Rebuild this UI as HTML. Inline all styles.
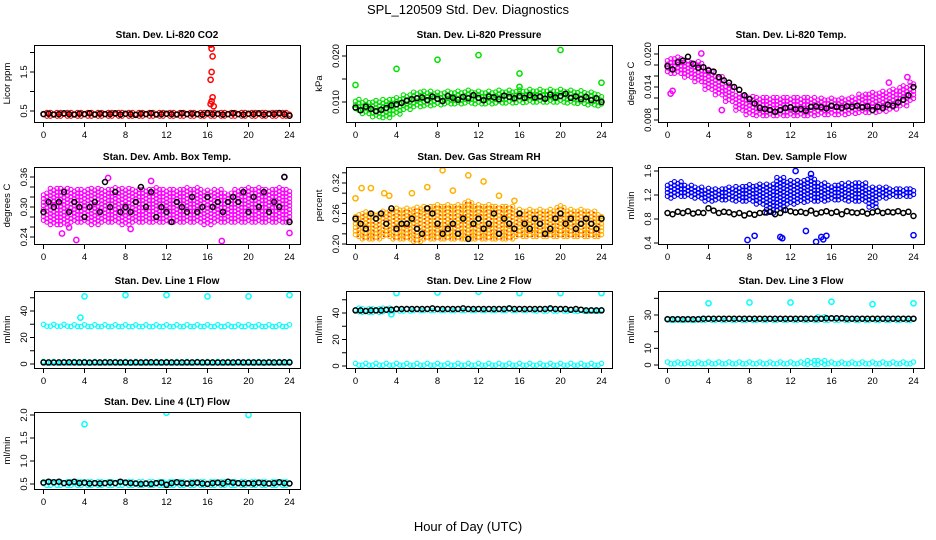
<!DOCTYPE html>
<html><head><meta charset="utf-8">
<style>
html,body{margin:0;padding:0;background:#fff;}
svg{display:block;font-family:"Liberation Sans",Arial,sans-serif;}
</style></head>
<body>
<svg id="c" width="936" height="540" viewBox="0 0 936 540">
<text x="468" y="14" text-anchor="middle" font-size="13">SPL_120509  Std. Dev. Diagnostics</text>
<text x="468" y="531" text-anchor="middle" font-size="13">Hour of Day (UTC)</text>
</svg>
<script>
// ---- data (hourly cloud extents: lo/hi per hour 0..24; black series every 0.5 h) ----
const hours = [0,1,2,3,4,5,6,7,8,9,10,11,12,13,14,15,16,17,18,19,20,21,22,23,24];
const xTicks = [0,4,8,12,16,20,24];

const co2Lo = [0.37,0.37,0.37,0.37,0.37,0.37,0.37,0.37,0.37,0.37,0.37,0.37,0.37,0.37,0.37,0.37,0.37,0.37,0.37,0.37,0.37,0.37,0.37,0.37,0.37];
const co2Hi = [0.47,0.47,0.47,0.47,0.47,0.47,0.47,0.47,0.47,0.47,0.47,0.47,0.47,0.47,0.47,0.47,0.48,0.47,0.47,0.47,0.47,0.47,0.47,0.47,0.46];
const co2OutX = [16.3,16.4,16.5,16.4,16.3,16.5,16.4,16.3,16.6];
const co2OutY = [2.2,2.1,1.9,1.5,1.3,0.85,0.75,0.68,0.62];
const co2Black = [0.42,0.43,0.41,0.42,0.44,0.42,0.41,0.43,0.42,0.44,0.41,0.43,0.42,0.42,0.44,0.41,0.43,0.42,0.40,0.43,0.42,0.44,0.41,0.42,0.43,0.42,0.41,0.44,0.42,0.43,0.42,0.41,0.45,0.42,0.43,0.41,0.42,0.44,0.42,0.41,0.43,0.42,0.44,0.41,0.43,0.42,0.45,0.42,0.38];

const prsLo = [0.0082,0.0075,0.0068,0.0066,0.0074,0.0084,0.0090,0.0092,0.0094,0.0096,0.0096,0.0098,0.0096,0.0096,0.0098,0.0098,0.0099,0.0100,0.0100,0.0100,0.0100,0.0098,0.0097,0.0094,0.0092];
const prsHi = [0.0108,0.0106,0.0104,0.0106,0.0110,0.0116,0.0122,0.0124,0.0124,0.0126,0.0126,0.0127,0.0124,0.0126,0.0126,0.0128,0.0128,0.0128,0.0128,0.0128,0.0128,0.0126,0.0126,0.0122,0.0118];
const prsOutX = [0,4,8,12,16,16,20,24];
const prsOutY = [0.0137,0.0172,0.0192,0.0202,0.0162,0.0133,0.0213,0.0142];
const prsBlack = [0.0088,0.0082,0.0090,0.0085,0.0080,0.0083,0.0087,0.0093,0.0095,0.0098,0.0103,0.0106,0.0108,0.0110,0.0104,0.0112,0.0107,0.0102,0.0113,0.0109,0.0105,0.0111,0.0108,0.0115,0.0109,0.0104,0.0112,0.0110,0.0106,0.0114,0.0111,0.0108,0.0113,0.0109,0.0115,0.0110,0.0112,0.0107,0.0116,0.0110,0.0113,0.0118,0.0109,0.0112,0.0106,0.0111,0.0104,0.0108,0.0100];

const tmpLo = [0.0165,0.0165,0.0158,0.0150,0.0136,0.0126,0.0114,0.0098,0.0090,0.0088,0.0088,0.0088,0.0088,0.0088,0.0088,0.0090,0.0090,0.0090,0.0092,0.0094,0.0094,0.0096,0.0100,0.0106,0.0116];
const tmpHi = [0.0192,0.0196,0.0190,0.0186,0.0172,0.0160,0.0146,0.0130,0.0124,0.0122,0.0122,0.0122,0.0122,0.0122,0.0122,0.0122,0.0122,0.0122,0.0124,0.0128,0.0130,0.0132,0.0136,0.0142,0.0150];
const tmpOutX = [0.3,0.5,3.3,5.3,21.6,23.4];
const tmpOutY = [0.0128,0.0133,0.0201,0.0098,0.0148,0.0158];
const tmpBlack = [0.0178,0.0172,0.0185,0.0188,0.0195,0.0182,0.0175,0.0176,0.0170,0.0168,0.0158,0.0152,0.0148,0.0140,0.0135,0.0125,0.0118,0.0110,0.0102,0.0100,0.0098,0.0095,0.0098,0.0102,0.0103,0.0099,0.0100,0.0097,0.0104,0.0105,0.0103,0.0101,0.0106,0.0104,0.0102,0.0105,0.0104,0.0106,0.0103,0.0105,0.0098,0.0104,0.0102,0.0108,0.0106,0.0112,0.0117,0.0125,0.0140];

const ambLo = [0.27,0.265,0.265,0.27,0.27,0.265,0.27,0.27,0.265,0.27,0.27,0.27,0.27,0.27,0.27,0.27,0.265,0.27,0.27,0.27,0.27,0.27,0.27,0.27,0.27];
const ambHi = [0.33,0.34,0.34,0.335,0.335,0.34,0.335,0.34,0.34,0.335,0.335,0.34,0.335,0.335,0.34,0.34,0.335,0.335,0.33,0.335,0.34,0.34,0.335,0.34,0.335];
const ambOutX = [1.8,3.2,6.3,10.5,17.4,23.5,24,2.5,8.5];
const ambOutY = [0.247,0.234,0.358,0.352,0.232,0.360,0.248,0.259,0.256];
const ambBlack = [0.29,0.31,0.30,0.31,0.33,0.29,0.31,0.30,0.28,0.30,0.31,0.29,0.35,0.30,0.33,0.29,0.30,0.29,0.31,0.34,0.30,0.33,0.28,0.30,0.29,0.27,0.31,0.30,0.29,0.32,0.29,0.30,0.32,0.30,0.31,0.29,0.31,0.32,0.31,0.33,0.29,0.32,0.30,0.33,0.29,0.31,0.30,0.36,0.27];

const rhLo = [0.215,0.21,0.21,0.215,0.21,0.21,0.205,0.21,0.21,0.21,0.21,0.21,0.21,0.21,0.21,0.21,0.215,0.215,0.215,0.215,0.215,0.215,0.215,0.215,0.215];
const rhHi = [0.26,0.265,0.26,0.265,0.27,0.27,0.275,0.275,0.28,0.28,0.28,0.285,0.28,0.28,0.275,0.275,0.27,0.27,0.27,0.27,0.275,0.27,0.27,0.265,0.26];
const rhOutX = [0,0.6,1.5,2.8,5.5,7.0,8.5,9.5,11.0,12.5,14.0,15.5,3.3];
const rhOutY = [0.290,0.310,0.310,0.300,0.300,0.312,0.345,0.305,0.335,0.323,0.295,0.285,0.295];
const rhBlack = [0.25,0.24,0.23,0.26,0.25,0.26,0.24,0.27,0.23,0.24,0.24,0.25,0.23,0.22,0.27,0.26,0.24,0.22,0.23,0.24,0.22,0.25,0.21,0.24,0.25,0.23,0.24,0.26,0.22,0.25,0.24,0.23,0.26,0.24,0.23,0.25,0.24,0.22,0.23,0.25,0.26,0.24,0.25,0.23,0.24,0.25,0.24,0.23,0.25];

const sfLo = [1.15,1.18,1.18,1.15,1.10,1.12,1.12,1.10,1.10,1.05,0.90,0.95,1.05,1.08,1.10,1.10,1.12,1.12,1.10,1.10,1.00,1.15,1.18,1.18,1.18];
const sfHi = [1.40,1.42,1.38,1.35,1.32,1.32,1.35,1.35,1.38,1.40,1.40,1.50,1.45,1.45,1.50,1.40,1.38,1.40,1.42,1.40,1.35,1.35,1.32,1.32,1.32];
const sfOutX = [7.8,8.5,11.0,11.2,13.5,14.5,15.0,15.5,15.2,24,12.5,14.0];
const sfOutY = [0.45,0.52,0.50,0.48,0.60,0.42,0.50,0.52,0.46,0.53,1.60,1.55];
const sfBlack = [0.90,0.88,0.92,0.90,0.93,0.89,0.91,0.90,0.98,0.94,0.90,0.92,0.91,0.88,0.90,0.86,0.89,0.87,0.90,0.91,0.92,0.88,0.90,0.95,0.93,0.91,0.92,0.90,0.94,0.89,0.91,0.93,0.90,0.92,0.88,0.93,0.91,0.90,0.92,0.89,0.91,0.93,0.90,0.92,0.91,0.93,0.90,0.92,0.85];

const l1LoA = [28.5,28.5,28.5,28.3,28.3,28.2,28.2,28.2,28.2,28.2,28.2,28.2,28.2,28.2,28.3,28.3,28.3,28.3,28.3,28.3,28.3,28.3,28.3,28.3,28.3];
const l1HiA = [30.8,30.6,30.4,30.4,30.2,30.2,30.2,30.0,30.0,30.0,30.0,30.0,30.0,30.0,30.0,30.2,30.2,30.2,30.2,30.2,30.2,30.2,30.4,30.4,30.4];
const l1LoB = [0.6,0.6,0.6,0.6,0.6,0.6,0.6,0.6,0.6,0.6,0.6,0.6,0.6,0.6,0.6,0.6,0.6,0.6,0.6,0.6,0.6,0.6,0.6,0.6,0.6];
const l1HiB = [2.2,2.0,2.0,2.0,2.0,2.0,2.0,2.0,2.0,2.0,2.0,2.0,2.0,2.0,2.0,2.0,2.0,2.0,2.0,2.0,2.0,2.0,2.0,2.0,2.0];
const l1OutX = [4,8,12,16,20,24,3.6];
const l1OutY = [51,52,52,51,51,52,35];
const l1Black = [1.2,1.2,1.1,1.2,1.2,1.3,1.2,1.2,1.2,1.1,1.2,1.2,1.2,1.3,1.2,1.2,1.2,1.1,1.2,1.2,1.2,1.3,1.2,1.2,1.2,1.2,1.1,1.2,1.2,1.2,1.3,1.2,1.2,1.2,1.1,1.2,1.2,1.2,1.3,1.2,1.2,1.2,1.2,1.1,1.2,1.2,1.2,1.3,1.2];

const l2LoA = [41,40.5,40.5,41,41.5,41.5,41.8,41.8,41.8,41.8,41.8,41.8,41.8,41.8,41.8,41.8,41.8,41.8,41.5,41.5,41.5,41.5,41.2,41.2,41.2];
const l2HiA = [44.5,43.5,43.5,43.8,44.0,44.0,44.2,44.2,44.2,44.2,44.2,44.2,44.2,44.2,44.2,44.2,44.2,44.2,44.0,44.0,44.0,44.0,43.8,43.8,43.8];
const l2LoB = [0.6,0.6,0.6,0.6,0.6,0.6,0.6,0.6,0.6,0.6,0.6,0.6,0.6,0.6,0.6,0.6,0.6,0.6,0.6,0.6,0.6,0.6,0.6,0.6,0.6];
const l2HiB = [2.4,2.4,2.4,2.4,2.4,2.4,2.4,2.4,2.4,2.4,2.4,2.4,2.4,2.4,2.4,2.4,2.4,2.4,2.4,2.4,2.4,2.4,2.4,2.4,2.4];
const l2OutX = [4,8,12,16,20,24,3.5];
const l2OutY = [55,55.5,56,55,55,55,39];
const l2Black = [42,42,41.5,42,42,42,42.5,42.5,43,43,43,43,43,43,43,43.5,43,43,43,43,43,43.5,43,43,43,43,43,43,43,43,43.5,43,43,43,43,43,43,43,43.5,43,43,43,42.5,43,42.5,42,42,42,42];

const l3LoA = [26.8,26.8,26.8,26.8,26.8,26.8,26.8,26.8,26.8,26.8,26.8,26.8,26.8,26.8,26.8,26.8,26.8,26.8,26.8,26.8,26.8,26.8,26.8,26.8,26.8];
const l3HiA = [28.8,28.8,28.8,28.8,28.8,28.8,28.8,28.8,28.8,28.8,28.8,28.8,28.8,28.8,28.8,29.0,28.8,28.8,28.8,28.8,28.8,28.8,28.8,28.8,28.8];
const l3LoB = [0.7,0.7,0.7,0.7,0.7,0.7,0.7,0.7,0.7,0.7,0.7,0.7,0.7,0.7,0.5,0.5,0.7,0.7,0.7,0.7,0.7,0.7,0.7,0.7,0.7];
const l3HiB = [2.6,2.6,2.6,2.6,2.6,2.6,2.6,2.6,2.6,2.6,2.6,2.6,2.6,2.6,2.6,2.6,2.6,2.6,2.6,2.6,2.6,2.6,2.6,2.6,2.6];
const l3OutX = [4,8,12,16,20,24];
const l3OutY = [37,37.5,37.5,38,36.5,37];
const l3Black = [27.5,27.5,27.5,27.5,27.5,27.5,27.5,27.8,27.8,27.8,27.8,27.8,27.8,27.8,27.8,27.8,27.8,27.8,27.8,27.8,27.8,27.8,27.8,27.8,27.8,27.8,27.8,27.8,27.8,27.8,27.8,28.0,28.0,28.0,28.0,27.8,27.8,27.8,27.8,27.8,27.8,27.8,27.8,27.8,27.8,27.8,27.8,27.8,27.8];

const l4Lo = [0.47,0.47,0.47,0.47,0.47,0.47,0.47,0.47,0.47,0.47,0.47,0.47,0.47,0.47,0.47,0.47,0.47,0.47,0.47,0.47,0.47,0.47,0.47,0.47,0.47];
const l4Hi = [0.57,0.57,0.56,0.56,0.57,0.56,0.56,0.56,0.57,0.56,0.56,0.56,0.56,0.57,0.56,0.56,0.56,0.56,0.57,0.56,0.56,0.56,0.56,0.56,0.56];
const l4OutX = [4,12,20];
const l4OutY = [1.80,2.05,2.00];
const l4Black = [0.53,0.55,0.54,0.55,0.52,0.53,0.55,0.52,0.53,0.51,0.52,0.51,0.52,0.53,0.52,0.55,0.53,0.52,0.51,0.50,0.51,0.50,0.52,0.53,0.48,0.52,0.54,0.52,0.51,0.52,0.53,0.51,0.50,0.52,0.53,0.51,0.55,0.53,0.52,0.51,0.52,0.51,0.53,0.52,0.51,0.52,0.54,0.52,0.51];

// ---- layout ----
const NS = "http://www.w3.org/2000/svg";
const svg = document.getElementById('c');
const colLeft = [34,346,658];
const rowTop = [45,167,291,412];
const BW = 266, BH = 77;

function mk(tag, attrs, parent){
  const e = document.createElementNS(NS, tag);
  for (const k in attrs) e.setAttribute(k, attrs[k]);
  (parent||svg).appendChild(e);
  return e;
}

const panels = [
 {name:'li820-co2',title:'Stan. Dev. Li-820 CO2',ylab:'Licor ppm',col:0,row:0,cal:[0.5,111,1.5,72],
  ticks:[0.5,1.0,1.5,2.0],labels:['0.5','','1.5',''],color:'#ff0000',
  bands:[[co2Lo,co2Hi]],outX:co2OutX,outY:co2OutY,black:co2Black},
 {name:'li820-pressure',title:'Stan. Dev. Li-820 Pressure',ylab:'kPa',col:1,row:0,cal:[0.010,102,0.020,56],
  ticks:[0.010,0.015,0.020],labels:['0.010','','0.020'],color:'#00e000',
  bands:[[prsLo,prsHi]],outX:prsOutX,outY:prsOutY,black:prsBlack},
 {name:'li820-temp',title:'Stan. Dev. Li-820 Temp.',ylab:'degrees C',col:2,row:0,cal:[0.008,120,0.020,54],
  ticks:[0.008,0.010,0.012,0.014,0.016,0.018,0.020],labels:['0.008','','','0.014','','','0.020'],color:'#ff00ff',
  bands:[[tmpLo,tmpHi]],outX:tmpOutX,outY:tmpOutY,black:tmpBlack},
 {name:'amb-box-temp',title:'Stan. Dev. Amb. Box Temp.',ylab:'degrees C',col:0,row:1,cal:[0.24,237,0.36,177],
  ticks:[0.24,0.26,0.28,0.30,0.32,0.34,0.36],labels:['0.24','','','0.30','','','0.36'],color:'#ff00ff',
  bands:[[ambLo,ambHi]],outX:ambOutX,outY:ambOutY,black:ambBlack},
 {name:'gas-stream-rh',title:'Stan. Dev. Gas Stream RH',ylab:'percent',col:1,row:1,cal:[0.20,244,0.32,183],
  ticks:[0.20,0.22,0.24,0.26,0.28,0.30,0.32,0.34],labels:['0.20','','','0.26','','','0.32',''],color:'#ffb000',
  bands:[[rhLo,rhHi]],outX:rhOutX,outY:rhOutY,black:rhBlack},
 {name:'sample-flow',title:'Stan. Dev. Sample Flow',ylab:'ml/min',col:2,row:1,cal:[0.4,243,1.6,171],
  ticks:[0.4,0.8,1.2,1.6],labels:['0.4','0.8','1.2','1.6'],color:'#0000ff',
  bands:[[sfLo,sfHi]],outX:sfOutX,outY:sfOutY,black:sfBlack},
 {name:'line1-flow',title:'Stan. Dev. Line 1 Flow',ylab:'ml/min',col:0,row:2,cal:[0,364,40,311],
  ticks:[0,10,20,30,40,50],labels:['0','','20','','40',''],color:'#00ffff',
  bands:[[l1LoA,l1HiA],[l1LoB,l1HiB]],outX:l1OutX,outY:l1OutY,black:l1Black},
 {name:'line2-flow',title:'Stan. Dev. Line 2 Flow',ylab:'ml/min',col:1,row:2,cal:[0,366,40,313],
  ticks:[0,10,20,30,40,50],labels:['0','','20','','40',''],color:'#00ffff',
  bands:[[l2LoA,l2HiA],[l2LoB,l2HiB]],outX:l2OutX,outY:l2OutY,black:l2Black},
 {name:'line3-flow',title:'Stan. Dev. Line 3 Flow',ylab:'ml/min',col:2,row:2,cal:[0,365,30,315],
  ticks:[0,10,20,30,40],labels:['0','10','','30',''],color:'#00ffff',
  bands:[[l3LoA,l3HiA],[l3LoB,l3HiB]],outX:l3OutX,outY:l3OutY,black:l3Black},
 {name:'line4-flow',title:'Stan. Dev. Line 4 (LT) Flow',ylab:'ml/min',col:0,row:3,cal:[0.5,484,2.0,415],
  ticks:[0.5,1.0,1.5,2.0],labels:['0.5','1.0','1.5','2.0'],color:'#00ffff',
  bands:[[l4Lo,l4Hi]],outX:l4OutX,outY:l4OutY,black:l4Black}
];

panels.forEach(p => {
  const L = colLeft[p.col], T = rowTop[p.row];
  const g = mk('g', {});
  
  
  const xs = h => L + 9.5 + h * (246/24);
  const [v1,p1,v2,p2] = p.cal;
  const ys = v => p1 + (v - v1) * (p2 - p1) / (v2 - v1);
  const clip = 'clip-' + p.name;
  const cp = mk('clipPath', {id: clip}, g);
  mk('rect', {x:L, y:T, width:BW, height:BH}, cp);
  const plot = mk('g', {'clip-path':'url(#'+clip+')'}, g);

  // colored clouds
  p.bands.forEach(b => {
    const lo = b[0], hi = b[1];
    hours.forEach((h,i) => {
      const yTop = ys(hi[i]), yBot = ys(lo[i]);
      [-0.33,0,0.33].forEach((dx,k) => {
        const hx = h + dx;
        if (hx < 0 || hx > 24) return;
        const off = (k % 2) * 1.8;
        for (let y = yBot - off; y >= yTop - 0.1; y -= 3.6) {
          const c = mk('circle', {cx: xs(hx).toFixed(1), cy: y.toFixed(1), r: 2.2, fill: 'none', stroke: p.color, 'stroke-width': 1.1}, plot);
          
          
        }
      });
    });
  });
  if (p.name === 'gas-stream-rh') {
    hours.forEach((h,i) => {
      [-0.25,0.25].forEach(dx => {
        const hx = h + dx; if (hx < 0 || hx > 24) return;
        for (let y = ys(rhLo[i]); y >= ys(rhHi[i]); y -= 4) {
          mk('circle', {cx: xs(hx).toFixed(1), cy: y.toFixed(1), r: 0.9, fill: '#ff2000'}, plot);
        }
      });
    });
  }
  // outliers
  p.outX.forEach((x,i) => {
    const c = mk('circle', {cx: xs(x).toFixed(1), cy: ys(p.outY[i]).toFixed(1), r: 2.6, fill: 'none', stroke: p.color, 'stroke-width': 1.5}, plot);
    
    
  });
  // black series (every 0.5 h)
  p.black.forEach((v,i) => {
    const hx = i * 0.5;
    const c = mk('circle', {cx: xs(hx).toFixed(1), cy: ys(v).toFixed(1), r: 2.5, fill: 'none', stroke: '#000', 'stroke-width': 1.5}, plot);
    
    
  });

  // box
  const box = mk('rect', {x:L+0.5, y:T+0.5, width:BW, height:BH, fill:'none', stroke:'#000', 'stroke-width':1}, g);
  
  

  // x ticks
  xTicks.forEach(t => {
    const x = xs(t);
    mk('line', {x1:x, x2:x, y1:T+BH, y2:T+BH+5, stroke:'#000', 'stroke-width':1}, g);
    const tx = mk('text', {x:x, y:T+BH+16, 'text-anchor':'middle', 'font-size':9.5}, g);
    tx.textContent = t;
    
    
  });
  // y ticks
  p.ticks.forEach((t,i) => {
    const y = ys(t);
    if (y < T - 0.5 || y > T + BH + 0.5) return;
    mk('line', {x1:L-4, x2:L, y1:y, y2:y, stroke:'#000', 'stroke-width':1}, g);
    if (p.labels[i]) {
      const tx = mk('text', {x:0, y:0, 'text-anchor':'middle', 'font-size':9.5, transform:'translate('+(L-7)+','+y+') rotate(-90)'}, g);
      tx.textContent = p.labels[i];
      
      
    }
  });
  // titles
  const tt = mk('text', {x:L+BW/2, y:T-7, 'text-anchor':'middle', 'font-size':10, 'font-weight':'bold'}, g);
  tt.textContent = p.title;
  
  
  const yl = mk('text', {x:0, y:0, 'text-anchor':'middle', 'font-size':9.5, transform:'translate('+(L-24)+','+(T+BH/2)+') rotate(-90)'}, g);
  yl.textContent = p.ylab;
  
  
});
</script>
</body></html>
